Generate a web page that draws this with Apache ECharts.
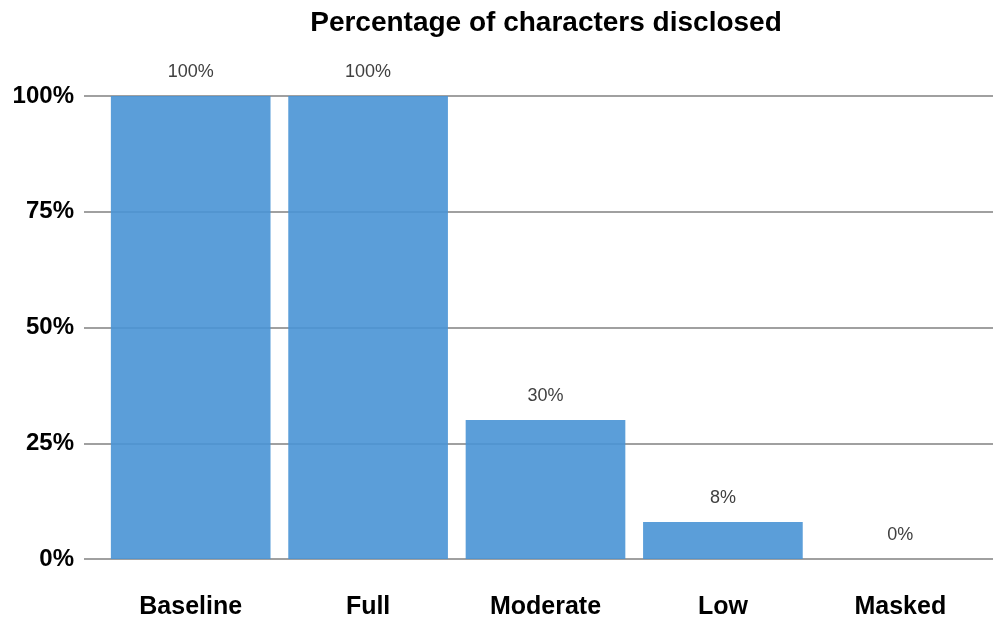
<!DOCTYPE html>
<html>
<head>
<meta charset="utf-8">
<script src="https://cdn.jsdelivr.net/npm/echarts@6/dist/echarts.min.js"></script>
<style>
  html, body { margin: 0; padding: 0; background: #fff; }
  #chart { width: 993px; height: 620px; }
</style>
</head>
<body>
<div id="chart"></div>
<script>
// chart data
const categories = ["Baseline", "Full", "Moderate", "Low", "Masked"];
const disclosed = [100, 100, 30, 8, 0];
const yTicks = [0, 25, 50, 75, 100];

const chart = echarts.init(document.getElementById('chart'));
const font = 'Liberation Sans, Arial, sans-serif';

const option = {
    animation: false,
    title: {
        text: 'Percentage of characters disclosed',
        left: 541,
        textAlign: 'center',
        top: 4,
        textStyle: { fontFamily: font, fontSize: 28, fontWeight: 'bold', color: '#000' }
    },
    // wide grid only carries the grid lines and y labels, narrow one holds the bars
    grid: [
        { left: 84, right: 0, top: 96, bottom: 61 },
        { left: 102, right: 4, top: 96, bottom: 61 }
    ],
    xAxis: [
        { type: 'category', gridIndex: 0, data: categories, show: false },
        {
            type: 'category',
            gridIndex: 1,
            data: categories,
            axisLine: { show: false },
            axisTick: { show: false },
            axisLabel: {
                margin: 36,
                fontFamily: font,
                fontSize: 25,
                fontWeight: 'bold',
                color: '#000'
            }
        }
    ],
    yAxis: [
        {
            type: 'value',
            gridIndex: 0,
            min: yTicks[0],
            max: yTicks[yTicks.length - 1],
            interval: 25,
            axisLine: { show: false },
            axisTick: { show: false },
            splitLine: { lineStyle: { color: '#a0a0a0', width: 2 } },
            axisLabel: {
                formatter: '{value}%',
                margin: 10,
                padding: [4, 0, 0, 0],
                fontFamily: font,
                fontSize: 24,
                fontWeight: 'bold',
                color: '#000'
            }
        },
        {
            type: 'value',
            gridIndex: 1,
            min: 0,
            max: 100,
            interval: 25,
            show: false
        }
    ],
    series: [
        {
            type: 'bar',
            xAxisIndex: 1,
            yAxisIndex: 1,
            data: disclosed,
            barCategoryGap: '10%',
            itemStyle: { color: 'rgba(73,148,213,0.9)' },
            label: {
                show: true,
                position: 'top',
                distance: 15,
                formatter: '{c}%',
                fontFamily: font,
                fontSize: 18,
                color: '#404040'
            }
        }
    ]
};

chart.setOption(option);
</script>
</body>
</html>
